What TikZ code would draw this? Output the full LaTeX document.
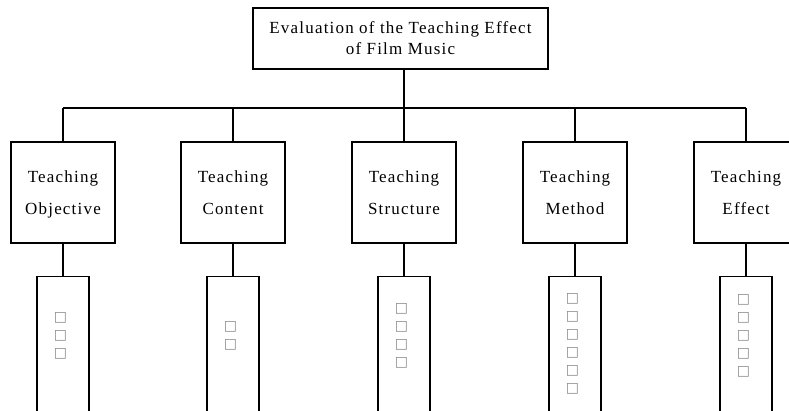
\documentclass[tikz,border=0pt]{standalone}
\usepackage{fontspec}
\setmainfont{Liberation Serif}[LetterSpace=7]
\newfontfamily\sqfont{DejaVu Sans}
\tikzset{
  x=1pt, y=-1pt,
  topbox/.style={draw, line width=1.4pt, minimum width=295pt, minimum height=61pt, inner sep=0pt, align=center, font=\fontsize{17}{21}\selectfont},
  midbox/.style={draw, line width=1.4pt, minimum width=104pt, minimum height=101pt, inner sep=0pt, align=center, font=\fontsize{17}{32}\selectfont},
  lowbox/.style={draw, line width=1.4pt, minimum width=52pt, minimum height=160pt, inner sep=0pt, anchor=north},
  sq/.style={text=black!45, inner sep=0pt, align=center, font=\sqfont\fontsize{14}{18}\selectfont},
  conn/.style={line width=1.4pt},
}
\begin{document}
\begin{tikzpicture}
\useasboundingbox (0,0) rectangle (789,410);
\clip (0,0) rectangle (789,410);
\node[topbox] (top) at (400.5,38.5) {Evaluation of the Teaching Effect\\of Film Music};
\coordinate (bar) at (404,108);
\node[midbox] (m1) at (63,192.5) {Teaching\strut\\Objective\strut};
\node[midbox] (m2) at (233,192.5) {Teaching\strut\\Content\strut};
\node[midbox] (m3) at (404,192.5) {Teaching\strut\\Structure\strut};
\node[midbox] (m4) at (575,192.5) {Teaching\strut\\Method\strut};
\node[midbox] (m5) at (746,192.5) {Teaching\strut\\Effect\strut};
\node[lowbox] (b1) at (63,276) {};
\node[lowbox] (b2) at (233,276) {};
\node[lowbox] (b3) at (404,276) {};
\node[lowbox] (b4) at (575,276) {};
\node[lowbox] (b5) at (746,276) {};
\node[sq] (s1) at (60.5,336) {□\\□\\□};
\node[sq] (s2) at (230.5,335.5) {□\\□};
\node[sq] (s3) at (401.5,336) {□\\□\\□\\□};
\node[sq] (s4) at (572.5,343.5) {□\\□\\□\\□\\□\\□};
\node[sq] (s5) at (743.5,336) {□\\□\\□\\□\\□};
\draw[line width=2pt] (top.south -| bar) -- (bar);
\draw[conn] (m1.north |- bar) -- (m5.north |- bar);
\foreach \i in {1,...,5}{
  \draw[conn] (m\i.north) -- (m\i.north |- bar);
  \draw[conn] (m\i.south) -- (b\i.north);
}
\end{tikzpicture}
\end{document}
